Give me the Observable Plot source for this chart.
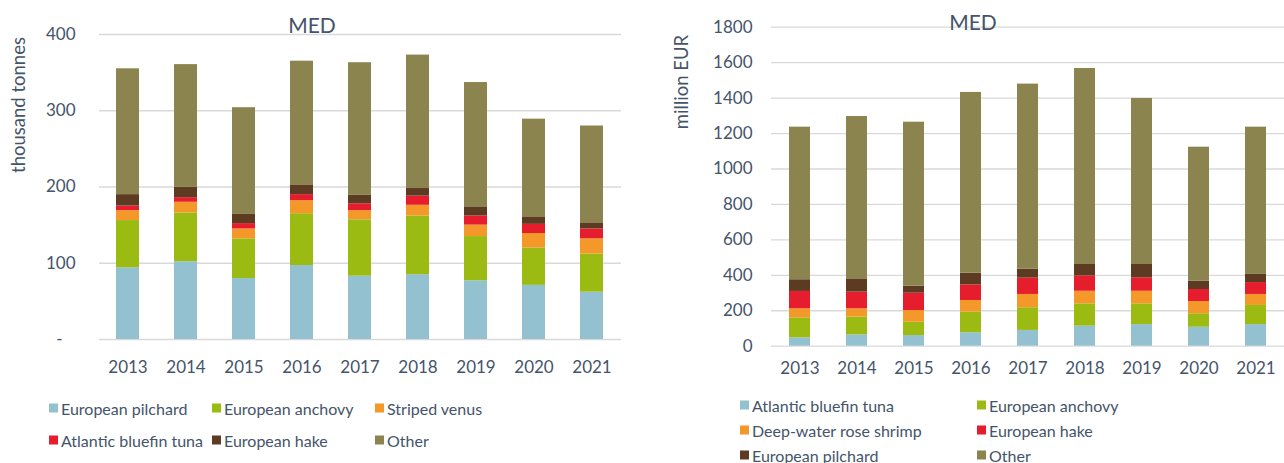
<!DOCTYPE html>
<html><head><meta charset="utf-8">
<script src="https://cdn.jsdelivr.net/npm/d3@7"></script>
<script src="https://cdn.jsdelivr.net/npm/@observablehq/plot@0.6"></script>
<style>
body{margin:0;background:#fff;font-family:Lato,sans-serif;}
#wrap{position:relative;width:1284px;height:463px;overflow:hidden;background:#fff}
.abs{position:absolute;white-space:nowrap}
.title{font-size:21px;color:#44546a;transform:translate(-50%,-50%)}
.ylab{font-size:18.5px;color:#44546a;transform:translate(-50%,-50%) rotate(-90deg)}
.leg{font-size:16px;color:#44546a;display:flex;align-items:center;transform:translateY(-50%)}
.sw{width:9px;height:9px;margin-right:3px;display:inline-block}
</style></head><body><div id="wrap"></div>
<script>
const years = ["2013","2014","2015","2016","2017","2018","2019","2020","2021"];

// Left: landings volume (thousand tonnes)
const volSeries = ["European pilchard","European anchovy","Striped venus","Atlantic bluefin tuna","European hake","Other"];
const volPilchard = [94,102,80,97,83,85,77,71,62];
const volAnchovy  = [62,64,52,68,74,77,58,49,50];
const volVenus    = [13,14,13,17,12,14,15,19,20];
const volTuna     = [6,6,7,8,9,12,12,12,13];
const volHake     = [15,13.5,12,12,11,10,12,9,8];
const volOther    = [165,161,140,163,174,175,163,129,127];
const volTicks = [0,100,200,300,400];

// Right: landings value (million EUR)
const valSeries = ["Atlantic bluefin tuna","European anchovy","Deep-water rose shrimp","European hake","European pilchard","Other"];
const valTuna     = [47,64,60,76,89,113,122,107,122];
const valAnchovy  = [113,100,75,116,128,126,117,76,108];
const valShrimp   = [51,47,66,66,75,71,71,69,62];
const valHake     = [98,94,98,88,92,87,76,68,67];
const valPilchard = [66,75,40,66,51,64,75,47,46];
const valOther    = [861,916,925,1020,1044,1106,937,756,831];
const valTicks = [0,200,400,600,800,1000,1200,1400,1600,1800];

const volColors = ["#93c1d0","#9bbb13","#f4982a","#e61d2d","#5d3a22","#8c844f"];
const valColors = ["#93c1d0","#9bbb13","#f4982a","#e61d2d","#5d3a22","#8c844f"];

function rows(series, arrays){
  const out = [];
  years.forEach((y,i)=>series.forEach((s,j)=>out.push({year:y, series:s, value:arrays[j][i]})));
  return out;
}
const volData = rows(volSeries,[volPilchard,volAnchovy,volVenus,volTuna,volHake,volOther]);
const valData = rows(valSeries,[valTuna,valAnchovy,valShrimp,valHake,valPilchard,valOther]);

const wrap = document.getElementById("wrap");
function place(el, left, top){ el.style.position="absolute"; el.style.left=left+"px"; el.style.top=top+"px"; wrap.appendChild(el); }
function div(cls, text, left, top){ const d=document.createElement("div"); d.className="abs "+cls; d.textContent=text; d.style.left=left+"px"; d.style.top=top+"px"; wrap.appendChild(d); return d; }

const common = {fontFamily:"Lato, sans-serif", fontSize:"17px", color:"#44546a", background:"transparent", overflow:"visible"};

const left = Plot.plot({
  width:640, height:385, marginLeft:99, marginRight:19, marginTop:34, marginBottom:46,
  style:common,
  x:{domain:years, paddingInner:0.6, paddingOuter:0.3, label:null},
  y:{domain:[0,400], label:null},
  color:{domain:volSeries, range:volColors},
  marks:[
    Plot.gridY(volTicks,{stroke:"#d9d9d9", strokeOpacity:1, strokeWidth:1.3}),
    Plot.barY(volData,{x:"year", y:"value", fill:"series", order:volSeries}),
    Plot.axisY(volTicks,{tickSize:0, tickPadding:24, tickFormat:d=>d===0?"-\u00a0\u00a0\u00a0":String(d), label:null}),
    Plot.axisX({tickSize:0, tickPadding:21, label:null})
  ]
});
place(left,0,0);

const right = Plot.plot({
  width:644, height:385, marginLeft:131, marginRight:0, marginTop:26.7, marginBottom:39.3,
  style:common,
  x:{domain:years, paddingInner:0.63, paddingOuter:0.315, label:null},
  y:{domain:[0,1800], label:null},
  color:{domain:valSeries, range:valColors},
  marks:[
    Plot.gridY(valTicks,{stroke:"#d9d9d9", strokeOpacity:1, strokeWidth:1.3}),
    Plot.barY(valData,{x:"year", y:"value", fill:"series", order:valSeries}),
    Plot.axisY(valTicks,{tickSize:0, tickPadding:19, tickFormat:d=>String(d), label:null}),
    Plot.axisX({tickSize:0, tickPadding:16, label:null})
  ]
});
place(right,640,0);

div("title","MED",312,24);
div("title","MED",973,21);
div("ylab","thousand tonnes",18,105);
div("ylab","million EUR",681,82);

function legend(items, colors, positions){
  items.forEach((s,i)=>{
    const d=document.createElement("div"); d.className="abs leg";
    const sw=document.createElement("span"); sw.className="sw"; sw.style.background=colors[i];
    d.appendChild(sw); d.appendChild(document.createTextNode(s));
    d.style.left=positions[i][0]+"px"; d.style.top=positions[i][1]+"px";
    wrap.appendChild(d);
  });
}
legend(volSeries, volColors, [[49,408],[212,408],[375,408],[49,440],[212,440],[375,440]]);
legend(valSeries, valColors, [[740,405],[977,405],[740,430],[977,430],[740,455],[977,455]]);
</script></body></html>
